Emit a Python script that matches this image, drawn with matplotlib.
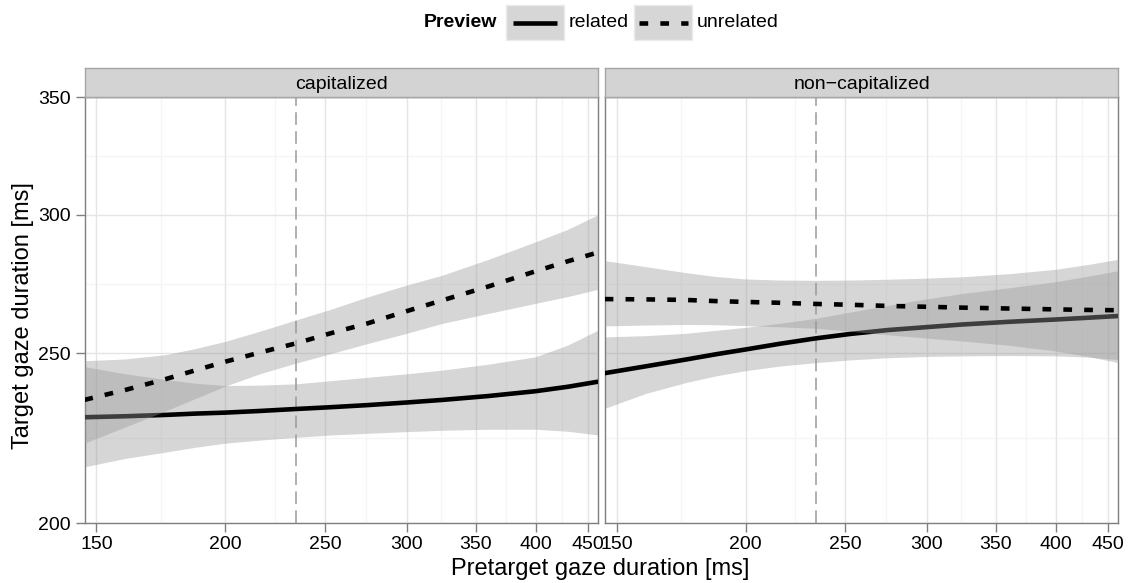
import matplotlib
matplotlib.use("Agg")
import matplotlib.pyplot as plt
from matplotlib.patches import Rectangle
from matplotlib.lines import Line2D
from matplotlib.ticker import FixedLocator, NullFormatter, FixedFormatter

plt.rcParams['font.family'] = ['Liberation Sans', 'DejaVu Sans']

# ---------------- data ----------------
x_pts = [146, 160, 175, 187, 200, 216, 234, 253, 275, 300, 325, 360, 400, 430, 460]

# capitalized panel
cap_rel_fit = [229.9, 230.2, 230.6, 231.0, 231.3, 231.8, 232.4, 232.95, 233.6, 234.4, 235.2, 236.4, 237.9, 239.3, 240.9]
cap_rel_lo = [215.4, 217.8, 219.6, 221.0, 222.2, 223.1, 223.9, 224.6, 225.1, 225.6, 226.0, 226.3, 226.3, 225.7, 224.6]
cap_rel_hi = [245.7, 243.4, 241.6, 240.4, 239.7, 239.8, 240.2, 241.2, 242.3, 243.4, 244.6, 246.5, 248.9, 252.8, 257.8]
cap_unr_fit = [235.2, 238.3, 241.7, 244.5, 247.3, 250.3, 253.3, 256.7, 260.1, 264.3, 268.1, 273.0, 278.5, 282.2, 285.5]
cap_unr_lo = [222.2, 227.0, 231.8, 235.6, 239.5, 243.4, 246.8, 249.9, 253.3, 256.7, 260.1, 263.5, 267.0, 269.4, 272.0]
cap_unr_hi = [247.6, 248.2, 249.6, 251.6, 254.0, 257.4, 261.2, 264.9, 269.3, 273.5, 277.1, 282.9, 289.5, 294.3, 300.0]

# non-capitalized panel
non_rel_fit = [243.6, 245.8, 248.0, 249.7, 251.3, 253.2, 255.0, 256.5, 257.8, 258.8, 259.7, 260.6, 261.4, 262.0, 262.6]
non_rel_lo = [232.6, 237.2, 240.6, 242.7, 244.4, 245.9, 247.0, 247.9, 248.6, 249.0, 249.2, 249.3, 249.2, 248.8, 248.0]
non_rel_hi = [255.5, 255.9, 256.7, 257.7, 258.7, 260.1, 261.8, 264.0, 266.3, 268.6, 270.5, 272.5, 274.7, 276.7, 278.7]
non_unr_fit = [268.5, 268.4, 268.2, 267.8, 267.5, 267.2, 266.8, 266.5, 266.1, 265.8, 265.5, 265.2, 264.9, 264.7, 264.6]
non_unr_lo = [259.2, 259.5, 259.7, 259.6, 259.3, 258.9, 258.4, 257.4, 256.2, 255.1, 254.1, 252.7, 250.8, 249.0, 247.0]
non_unr_hi = [282.4, 280.2, 278.0, 276.6, 275.7, 275.3, 275.2, 275.3, 275.6, 276.0, 276.5, 277.6, 279.2, 281.0, 282.9]

vline_x = 234
panel_titles = ["capitalized", "non\u2212capitalized"]
x_ticks = [150, 200, 250, 300, 350, 400, 450]
x_minor = [173.2, 223.6, 273.9, 324.0, 374.2, 424.3]
y_ticks = [200, 250, 300, 350]
y_minor = [223.6, 273.9, 324.0]
legend_title = "Preview"
legend_labels = ["related", "unrelated"]
xlabel = "Pretarget gaze duration [ms]"
ylabel = "Target gaze duration [ms]"

panels = [
    (cap_rel_fit, cap_rel_lo, cap_rel_hi, cap_unr_fit, cap_unr_lo, cap_unr_hi),
    (non_rel_fit, non_rel_lo, non_rel_hi, non_unr_fit, non_unr_lo, non_unr_hi),
]

# ---------------- layout ----------------
W, H = 1128, 583
fig = plt.figure(figsize=(W / 100, H / 100), dpi=100)

def fx(px):
    return px / W

def fy(py):
    return 1 - py / H

panel_top, panel_bot = 97.3, 523.3
lefts = [(85.0, 598.0), (605.3, 1118.0)]
strip_top = 68.3

RIB = '#999999'
LW = 3.3
dash_pat = (1.9, 2.65)

for i, ((l, r), data, title) in enumerate(zip(lefts, panels, panel_titles)):
    ax = fig.add_axes([fx(l), fy(panel_bot), (r - l) / W, (panel_bot - panel_top) / H])
    rf, rlo, rhi, uf, ulo, uhi = data
    ax.set_xscale('log')
    ax.set_yscale('log')
    ax.set_xlim(146.2, 459.8)
    ax.set_ylim(200, 350)
    # grid
    for v in x_minor:
        ax.axvline(v, color='#f5f5f5', lw=1.0, zorder=0.5)
    for v in y_minor:
        ax.axhline(v, color='#f5f5f5', lw=1.0, zorder=0.5)
    for v in x_ticks:
        ax.axvline(v, color='#e5e5e5', lw=1.0, zorder=0.6)
    for v in y_ticks:
        ax.axhline(v, color='#e5e5e5', lw=1.0, zorder=0.6)
    ax.axvline(vline_x, color='#a9a9a9', lw=1.3, dashes=(7, 3.5), zorder=1)
    ax.fill_between(x_pts, rlo, rhi, color=RIB, alpha=0.4, lw=0, zorder=2)
    ax.plot(x_pts, rf, color='black', lw=LW, solid_capstyle='butt',
            solid_joinstyle='round', zorder=3)
    ax.fill_between(x_pts, ulo, uhi, color=RIB, alpha=0.4, lw=0, zorder=4)
    ax.plot(x_pts, uf, color='black', lw=LW, dashes=dash_pat,
            dash_capstyle='butt', zorder=5)

    ax.xaxis.set_major_locator(FixedLocator(x_ticks))
    ax.xaxis.set_major_formatter(FixedFormatter([str(t) for t in x_ticks]))
    ax.xaxis.set_minor_locator(FixedLocator([]))
    ax.xaxis.set_minor_formatter(NullFormatter())
    ax.yaxis.set_major_locator(FixedLocator(y_ticks))
    ax.yaxis.set_major_formatter(FixedFormatter([str(t) for t in y_ticks]))
    ax.yaxis.set_minor_locator(FixedLocator([]))
    ax.yaxis.set_minor_formatter(NullFormatter())
    ax.tick_params(axis='both', which='major', direction='out', length=6.5,
                   width=1.0, color='#7f7f7f', labelsize=14, labelcolor='black')
    ax.tick_params(axis='x', pad=3)
    ax.tick_params(axis='y', pad=4)
    if i == 1:
        ax.tick_params(axis='y', left=False, labelleft=False)
    for s in ax.spines.values():
        s.set_color('#7f7f7f')
        s.set_linewidth(1.0)
    ax.set_facecolor('white')

    # strip
    sax = fig.add_axes([fx(l), fy(panel_top), (r - l) / W, (panel_top - strip_top) / H])
    sax.set_facecolor('#d3d3d3')
    sax.set_xticks([])
    sax.set_yticks([])
    for s in sax.spines.values():
        s.set_color('#a5a5a5')
        s.set_linewidth(1.0)
    sax.text(0.5, 0.45, title, ha='center', va='center', fontsize=14,
             transform=sax.transAxes)

# axis titles
fig.text(fx(600), fy(575), xlabel, ha='center', va='baseline', fontsize=17)
fig.text(fx(23), fy(316), ylabel, ha='center', va='center', rotation=90, fontsize=17)

# legend
fig.text(fx(497), fy(22.5), legend_title, ha='right', va='center',
         fontsize=14, fontweight='bold')
keys = [(505.7, 564.0, '-'), (634.0, 692.0, '--')]
for (k0, k1, ls), lab in zip(keys, legend_labels):
    fig.add_artist(Rectangle((fx(k0), fy(40)), (k1 - k0) / W, 35 / H,
                             transform=fig.transFigure, facecolor='#d6d6d6',
                             edgecolor='#ebebeb', lw=1.0))
    if ls == '-':
        fig.add_artist(Line2D([fx(k0 + 7), fx(k1 - 7)], [fy(22.5), fy(22.5)],
                              transform=fig.transFigure, color='black', lw=LW,
                              solid_capstyle='butt'))
    else:
        fig.add_artist(Line2D([fx(k0 + 5), fx(k1 - 4)], [fy(22.5), fy(22.5)],
                              transform=fig.transFigure, color='black', lw=LW,
                              dashes=dash_pat, dash_capstyle='butt'))
    fig.text(fx(k1 + 5), fy(22.5), lab, ha='left', va='center', fontsize=14)

fig.savefig('out.png', dpi=100)
